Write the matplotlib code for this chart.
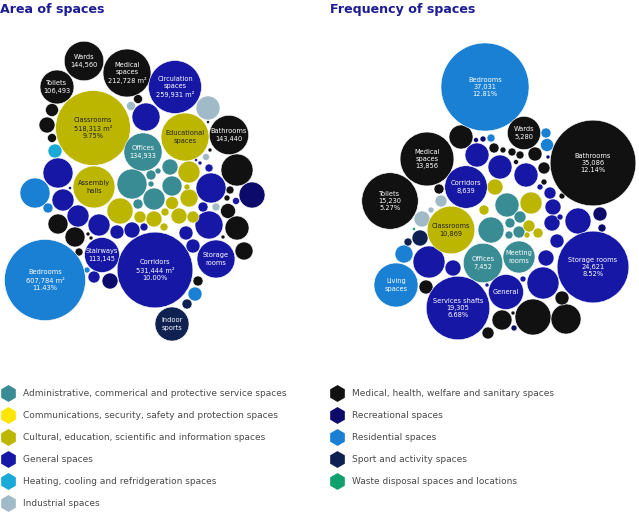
import matplotlib.pyplot as plt
from matplotlib.patches import Circle

# categories and colours
cat_keys = ['adm', 'com', 'cul', 'gen', 'hea', 'ind', 'med', 'rec', 'res', 'spo', 'was']
cat_names = ['Administrative, commerical and protective service spaces',
             'Communications, security, safety and protection spaces',
             'Cultural, education, scientific and information spaces',
             'General spaces',
             'Heating, cooling and refridgeration spaces',
             'Industrial spaces',
             'Medical, health, welfare and sanitary spaces',
             'Recreational spaces',
             'Residential spaces',
             'Sport and activity spaces',
             'Waste disposal spaces and locations']
cat_colors = ['#3a8c94', '#ffe600', '#bdb600', '#1717a6', '#19aad8', '#a0bac8',
              '#111111', '#0c0a6b', '#1a80d4', '#0e2150', '#0fa06e']
colors = dict(zip(cat_keys, cat_colors))

# ---- Area of spaces (m2) ----
area_labels = ['Wards\n144,560', 'Medical\nspaces\n212,728 m²', 'Toilets\n106,493',
               'Circulation\nspaces\n259,931 m²', 'Classrooms\n518,313 m²\n9.75%',
               'Educational\nspaces', 'Bathrooms\n143,440', 'Offices\n134,933',
               'Assembly\nhalls', 'Stairways\n113,145', 'Bedrooms\n607,784 m²\n11.43%',
               'Corridors\n531,444 m²\n10.00%', 'Storage\nrooms', 'Indoor\nsports']
area_values = [144560, 212728, 106493, 259931, 518313, 213000, 143440, 134933,
               163000, 113145, 607784, 531444, 133700, 107000]
area_cats = ['med', 'med', 'med', 'gen', 'cul', 'cul', 'med', 'adm',
             'cul', 'gen', 'res', 'gen', 'gen', 'spo']
area_x = [84, 127, 57, 175, 93, 185, 229, 143, 94, 102, 45, 155, 216, 172]
area_y = [61, 73, 87, 87, 128, 137, 135, 152, 187, 255, 280, 270, 259, 324]

# unlabelled bubbles
area_small_values = [15650, 23710, 7500, 7500, 94850, 5930, 3330, 20840, 53350, 1480,
                     30010, 37050, 37050, 5930, 1480, 1480, 9260, 830, 1480,
                     53350, 7500, 4540, 5930,
                     18150,
                     72620, 83360, 44830, 44830, 44830, 83360, 72620, 9260, 4540,
                     5930, 1480, 830, 23710, 18150, 5930, 18150, 18150, 13340,
                     62610, 23710, 830,
                     83360, 9260, 3330, 18150,
                     9260,
                     83360, 44830, 37050, 9260, 3330, 3330, 9260, 23710,
                     62610, 44830, 30010, 15650, 5930, 23710, 23710, 13340, 13340,
                     5930, 3330]
area_small_cats = ['med'] * 19 + ['ind'] * 4 + ['hea'] + ['gen'] * 18 + ['rec'] * 3 + \
                  ['res'] * 4 + ['spo'] + ['adm'] * 8 + ['cul'] * 11
area_small_x = [52, 47, 52, 138, 237, 230, 227, 228, 237, 223,
                244, 58, 75, 79, 88, 91, 198, 208, 210,
                208, 131, 206, 216,
                55,
                146, 58, 63, 78, 99, 211, 209, 203, 236,
                209, 200, 196, 132, 117, 144, 186, 193, 94,
                252, 110, 70,
                35, 48, 87, 195,
                187,
                132, 154, 172, 151, 158, 151, 138, 170,
                120, 189, 189, 172, 165, 179, 154, 140, 193,
                164, 187]
area_small_y = [110, 125, 138, 99, 170, 190, 198, 211, 228, 237,
                251, 224, 237, 252, 234, 238, 281, 122, 150,
                108, 106, 157, 207,
                151,
                117, 173, 200, 216, 225, 188, 225, 207, 201,
                168, 163, 160, 230, 232, 227, 233, 246, 277,
                195, 281, 188,
                193, 208, 270, 294,
                304,
                184, 199, 186, 175, 171, 184, 204, 167,
                211, 172, 198, 203, 212, 216, 219, 217, 217,
                227, 187]

# ---- Frequency of spaces (count) ----
freq_labels = ['Bedrooms\n37,031\n12.81%', 'Wards\n5,280', 'Medical\nspaces\n13,856',
               'Bathrooms\n35,086\n12.14%', 'Toilets\n15,230\n5.27%', 'Corridors\n8,639',
               'Classrooms\n10,869', 'Storage rooms\n24,621\n8.52%', 'Offices\n7,452',
               'Meeting\nrooms', 'Living\nspaces', 'Services shafts\n19,305\n6.68%', 'General']
freq_values = [37031, 5280, 13856, 35086, 15230, 8639, 10869, 24621, 7452,
               4900, 9250, 19305, 5850]
freq_cats = ['res', 'med', 'med', 'med', 'med', 'gen', 'cul', 'gen', 'adm',
             'adm', 'res', 'gen', 'gen']
freq_x = [485, 524, 427, 593, 390, 466, 451, 593, 483, 519, 396, 458, 506]
freq_y = [87, 133, 159, 163, 201, 187, 230, 267, 263, 257, 285, 308, 292]

freq_small_values = [2753, 478, 172, 306, 306, 937, 120, 688, 172, 172, 478, 937,
                     1912, 6195, 4302, 937, 688, 76,
                     2753, 2753, 2753, 688, 1224, 1224, 937, 1224, 4895, 3231,
                     4895, 1224, 172, 76, 172, 172,
                     306, 478, 808, 1549,
                     120, 172, 937, 306, 172, 76,
                     1224, 306,
                     1224, 688, 172,
                     43,
                     2753, 3231, 478, 688, 688, 306,
                     1224, 2314, 478, 688, 478, 172]
freq_small_cats = ['med'] * 18 + ['gen'] * 16 + ['res'] * 4 + ['rec'] * 6 + ['spo'] * 2 + \
                  ['ind'] * 3 + ['was'] + ['adm'] * 6 + ['cul'] * 6
freq_small_x = [461, 494, 503, 512, 520, 535, 516, 544, 544, 562, 439, 426,
                502, 533, 566, 562, 488, 513,
                477, 500, 526, 550, 553, 552, 557, 546, 543, 578, 429, 453, 523, 487, 540, 560,
                491, 546, 547, 404,
                476, 483, 600, 602, 514, 548,
                420, 408,
                422, 441, 431,
                414,
                507, 491, 510, 520, 519, 509,
                495, 531, 484, 529, 538, 527]
freq_small_y = [137, 148, 150, 152, 155, 154, 162, 168, 182, 196, 189, 287,
                320, 317, 319, 298, 333, 313,
                155, 167, 175, 193, 207, 223, 241, 258, 283, 221, 262, 268, 279, 285, 187, 217,
                138, 133, 145, 254,
                140, 139, 214, 228, 328, 157,
                238, 242,
                219, 201, 210,
                229,
                205, 230, 223, 217, 232, 235,
                187, 203, 210, 226, 233, 235]

# radius scale (pixels per sqrt(value)) for each panel
area_k = 0.05195
freq_k = 0.2287

fig = plt.figure(figsize=(6.39, 5.12), dpi=100)
ax = fig.add_axes([0, 0, 1, 1])
ax.set_xlim(0, 639)
ax.set_ylim(512, 0)
ax.axis('off')


def draw_bubbles(xs, ys, vals, cats, k):
    for x, y, v, c in zip(xs, ys, vals, cats):
        ax.add_patch(Circle((x, y), k * v ** 0.5, facecolor=colors[c],
                            edgecolor='white', linewidth=0.4))


def draw_labels(xs, ys, labels, cats):
    for x, y, t, c in zip(xs, ys, labels, cats):
        col = '#222222' if c in ('cul', 'com') else 'white'
        ax.text(x, y, t, ha='center', va='center', fontsize=4.8, color=col,
                linespacing=1.22, multialignment='center')


draw_bubbles(area_small_x, area_small_y, area_small_values, area_small_cats, area_k)
draw_bubbles(area_x, area_y, area_values, area_cats, area_k)
draw_labels(area_x, area_y, area_labels, area_cats)

draw_bubbles(freq_small_x, freq_small_y, freq_small_values, freq_small_cats, freq_k)
draw_bubbles(freq_x, freq_y, freq_values, freq_cats, freq_k)
draw_labels(freq_x, freq_y, freq_labels, freq_cats)

# titles
ax.text(0, 9, 'Area of spaces', fontsize=9.1, fontweight='bold', color='#1c1c94',
        va='center', ha='left')
ax.text(330, 9, 'Frequency of spaces', fontsize=9.1, fontweight='bold', color='#1c1c94',
        va='center', ha='left')

# legend (two columns of hexagons)
for i, (key, name) in enumerate(zip(cat_keys, cat_names)):
    if i < 6:
        lx, ly = 8, 393 + i * 22
    else:
        lx, ly = 337, 393 + (i - 6) * 22
    ax.plot(lx, ly, marker='h', markersize=11, color=colors[key], linestyle='none')
    ax.text(lx + 15, ly, name, fontsize=6.5, color='#4a4a4a', va='center', ha='left')

fig.savefig('out.png', dpi=100)
